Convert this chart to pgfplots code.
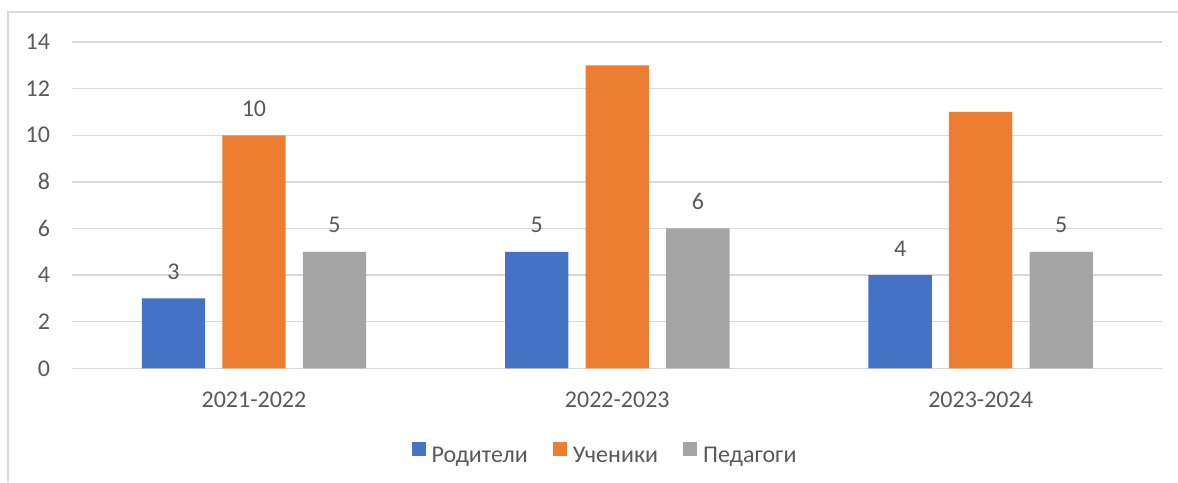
\documentclass[border=0pt]{standalone}
\usepackage{pgfplots}
\usepackage{pgfplotstable}
\pgfplotsset{compat=1.18}
\usepackage{fontspec}
\setmainfont{Carlito}
\definecolor{cBlue}{HTML}{4472C4}
\definecolor{cOrange}{HTML}{ED7D31}
\definecolor{cGray}{HTML}{A5A5A5}
\definecolor{cText}{HTML}{595959}
\definecolor{cGrid}{HTML}{D9D9D9}

\pgfplotstableread{
x y lab
0 3 3
1 5 5
2 4 4
}\tblRod
\pgfplotstableread{
x y lab
0 10 10
1 13 {}
2 11 {}
}\tblUch
\pgfplotstableread{
x y lab
0 5 5
1 6 6
2 5 5
}\tblPed

\begin{document}
\begin{tikzpicture}
\useasboundingbox (0,0) rectangle (883.5pt,-361.5pt);
\draw[cGrid, line width=1pt] (6pt,-361.5pt) -- (6pt,-9pt) -- (883.5pt,-9pt);
\begin{axis}[
  at={(54.225pt,-276.225pt)}, anchor=south west,
  scale only axis, width=817.5pt, height=244.7pt,
  xmin=-0.5, xmax=2.5, ymin=0, ymax=14,
  ytick={0,2,...,14}, xtick={0,1,2},
  xticklabels={2021-2022,2022-2023,2023-2024},
  ymajorgrids, grid style={cGrid, line width=1pt},
  axis line style={draw=none}, major tick length=0pt,
  ybar=12.9pt, bar width=47.5pt,
  tick label style={font=\fontsize{18}{21.6}\selectfont, text=cText, inner sep=0pt},
  yticklabel style={anchor=east, xshift=-16.5pt},
  xticklabel style={anchor=north, yshift=-17.5pt},
  /pgf/number format/assume math mode=true,
  point meta=explicit symbolic,
  nodes near coords={\pgfplotspointmeta},
  every node near coord/.append style={font=\fontsize{18}{21.6}\selectfont, text=cText, inner sep=0pt, anchor=south, yshift=13.8pt},
  legend columns=3,
  legend style={at={(rel axis cs:0.4878,-0.2596)}, anchor=center, draw=none, fill=none,
    font=\fontsize{18}{21.6}\selectfont, text=cText,
    nodes={inner sep=0pt},
    /tikz/every odd column/.append style={column sep=4.5pt},
    /tikz/every even column/.append style={column sep=18.75pt}},
  legend image code/.code={\fill[#1] (0pt,0pt) rectangle (10.5pt,10.5pt);},
]
\addplot[fill=cBlue, draw=none] table[x=x,y=y,meta=lab]{\tblRod};
\addplot[fill=cOrange, draw=none] table[x=x,y=y,meta=lab]{\tblUch};
\addplot[fill=cGray, draw=none] table[x=x,y=y,meta=lab]{\tblPed};
\legend{Родители,Ученики,Педагоги}
\end{axis}
\end{tikzpicture}
\end{document}
